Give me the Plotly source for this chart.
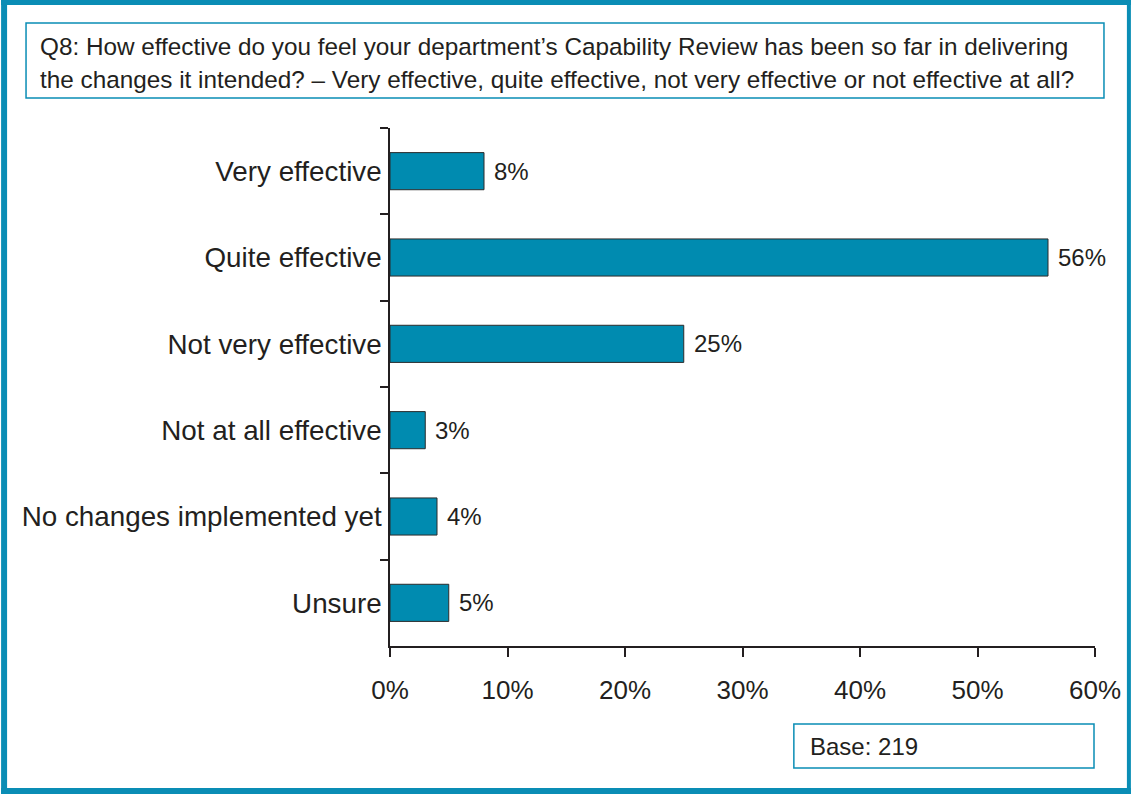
import plotly.graph_objects as go

categories = ["Very effective", "Quite effective", "Not very effective",
              "Not at all effective", "No changes implemented yet", "Unsure"]
values = [8, 56, 25, 3, 4, 5]
labels = ["8%", "56%", "25%", "3%", "4%", "5%"]
x_ticks = [0, 10, 20, 30, 40, 50, 60]
x_tick_labels = ["0%", "10%", "20%", "30%", "40%", "50%", "60%"]
title_lines = ["Q8: How effective do you feel your department\u2019s Capability Review has been so far in delivering",
               "the changes it intended? \u2013 Very effective, quite effective, not very effective or not effective at all?"]
base_text = "Base: 219"

W, H = 1133, 794
L, R, T, B = 390, 36, 128, 148
PW, PH = W - L - R, H - T - B
TEAL = "#0A8DB5"
BAR = "#008BB0"
INK = "#231F20"
FONT = "Arial, Liberation Sans, sans-serif"


def px(x):
    return (x - L) / PW


def py(y):
    return (H - B - y) / PH


fig = go.Figure()
fig.add_trace(go.Bar(
    x=values, y=categories, orientation="h",
    marker=dict(color=BAR, line=dict(color="#2b2b2b", width=1)),
    width=0.43, showlegend=False, hoverinfo="skip",
))

for v, c, t in zip(values, categories, labels):
    fig.add_annotation(x=v, y=c, xref="x", yref="y", text=t, showarrow=False,
                       xanchor="left", yanchor="middle", xshift=8,
                       font=dict(family=FONT, size=24, color=INK))

shapes = []
# outer border
shapes.append(dict(type="rect", xref="paper", yref="paper", x0=px(0), x1=px(6), y0=py(794), y1=py(0),
                   fillcolor=TEAL, line=dict(width=0), layer="above"))
shapes.append(dict(type="rect", xref="paper", yref="paper", x0=px(0), x1=px(1133), y0=py(5), y1=py(0),
                   fillcolor=TEAL, line=dict(width=0), layer="above"))
shapes.append(dict(type="rect", xref="paper", yref="paper", x0=px(0), x1=px(1133), y0=py(794), y1=py(788),
                   fillcolor=TEAL, line=dict(width=0), layer="above"))
shapes.append(dict(type="rect", xref="paper", yref="paper", x0=px(1129), x1=px(1133), y0=py(794), y1=py(0),
                   fillcolor=TEAL, line=dict(width=0), layer="above"))
# title box
shapes.append(dict(type="rect", xref="paper", yref="paper", x0=px(25), x1=px(1106), y0=py(98), y1=py(23),
                   line=dict(color=TEAL, width=1.5), fillcolor="rgba(0,0,0,0)"))
# base box
shapes.append(dict(type="rect", xref="paper", yref="paper", x0=px(795), x1=px(1096), y0=py(768), y1=py(724),
                   line=dict(color=TEAL, width=1.5), fillcolor="rgba(0,0,0,0)"))
fig.update_layout(shapes=shapes)

for yy, line in zip([47, 80], title_lines):
    fig.add_annotation(x=px(37), y=py(yy), xref="paper", yref="paper", text=line, showarrow=False,
                       xanchor="left", yanchor="middle", align="left",
                       font=dict(family=FONT, size=24.3, color=INK))
fig.add_annotation(x=px(809), y=py(746), xref="paper", yref="paper", text=base_text, showarrow=False,
                   xanchor="left", yanchor="middle", align="left",
                   font=dict(family=FONT, size=24, color=INK))

fig.update_layout(
    width=W, height=H,
    margin=dict(l=L, r=R, t=T, b=B, pad=0),
    paper_bgcolor="white", plot_bgcolor="white",
    font=dict(family=FONT, color=INK),
    xaxis=dict(range=[0, 60], tickvals=x_ticks, ticktext=x_tick_labels,
               showgrid=False, zeroline=False, showline=True, linecolor=INK, linewidth=1.5,
               ticks="outside", ticklen=9, tickwidth=1.5, tickcolor=INK,
               tickfont=dict(family=FONT, size=26, color=INK), ticklabelstandoff=11, fixedrange=True),
    yaxis=dict(categoryorder="array", categoryarray=categories, autorange="reversed",
               showgrid=False, zeroline=False, showline=True, linecolor=INK, linewidth=1.5,
               ticks="outside", tickson="boundaries", ticklen=8, tickwidth=1.5, tickcolor=INK,
               tickfont=dict(family=FONT, size=27.8, color=INK), ticklabelstandoff=1, fixedrange=True),
)

fig.write_html("out.html")
